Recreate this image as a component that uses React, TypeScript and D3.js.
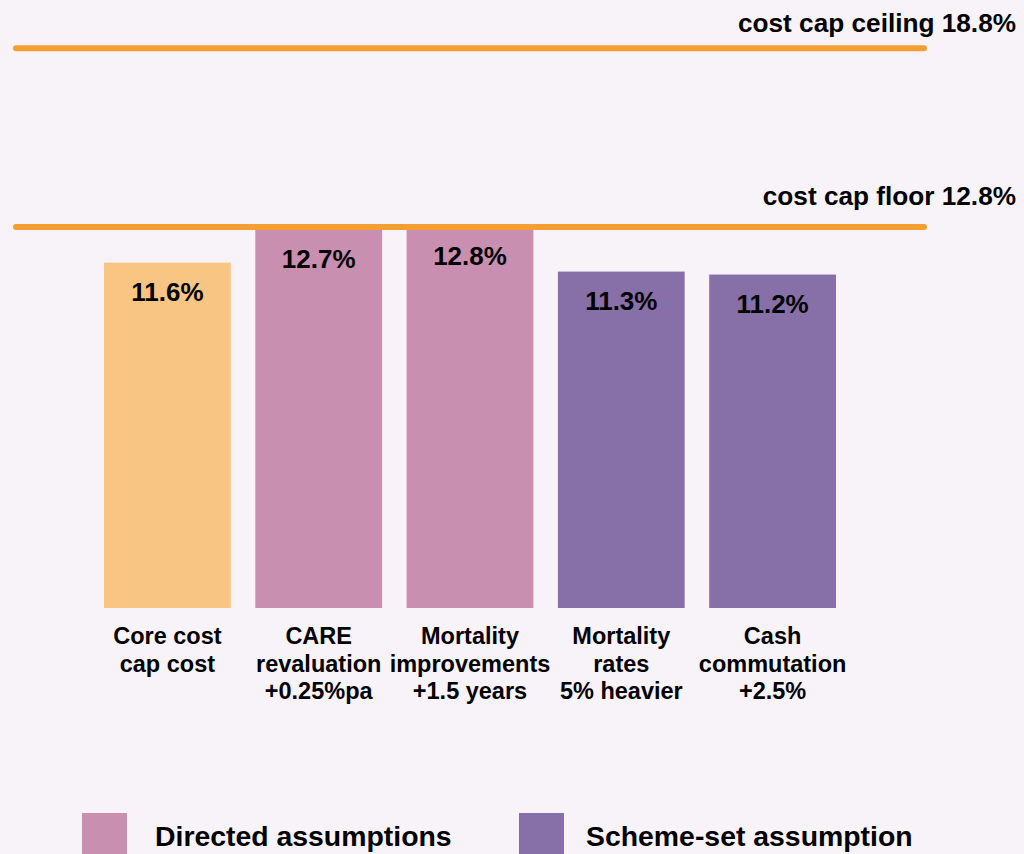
import * as d3 from 'd3';

const categories: string[][] = [
  ['Core cost', 'cap cost'],
  ['CARE', 'revaluation', '+0.25%pa'],
  ['Mortality', 'improvements', '+1.5 years'],
  ['Mortality', 'rates', '5% heavier'],
  ['Cash', 'commutation', '+2.5%'],
];
const values = [11.6, 12.7, 12.8, 11.3, 11.2];
const groups = ['core', 'directed', 'directed', 'scheme', 'scheme'];

const capNames = ['cost cap ceiling', 'cost cap floor'];
const capValues = [18.8, 12.8];

const legendGroups = ['directed', 'scheme'];
const legendLabels = ['Directed assumptions', 'Scheme-set assumption'];

const W = 1024;
const H = 854;
const FONT = 'Liberation Sans';

const color = d3
  .scaleOrdinal<string, string>()
  .domain(['core', 'directed', 'scheme'])
  .range(['#f8c582', '#c98fb0', '#8770a8']);

export default function App() {
  const x = d3
    .scaleBand<number>()
    .domain(d3.range(values.length))
    .range([91.75, 848.25])
    .paddingInner(0.162)
    .paddingOuter(0.081);
  const y = d3.scaleLinear().domain([0, 18.8]).range([608, 48.3]);
  const fmt = (v: number) => `${d3.format('.1f')(v)}%`;
  const capLabelDy = [-16, -22];
  // legend swatch / text x positions
  const legendX = [82, 519];
  const legendTextX = [155, 586];

  return (
    <svg
      width={W}
      height={H}
      viewBox={`0 0 ${W} ${H}`}
      style={{ position: 'absolute', left: 0, top: 0, background: '#f8f3f8', fontFamily: FONT }}
      fontWeight="bold"
    >
      <rect width={W} height={H} fill="#f8f3f8" />

      {values.map((v, i) => (
        <g key={i}>
          <rect
            x={x(i)}
            y={y(v)}
            width={x.bandwidth()}
            height={y(0) - y(v)}
            fill={color(groups[i])}
          />
          <text
            x={(x(i) ?? 0) + x.bandwidth() / 2}
            y={y(v) + 38}
            textAnchor="middle"
            fontSize={26}
            fill="#000"
          >
            {fmt(v)}
          </text>
          <text
            x={(x(i) ?? 0) + x.bandwidth() / 2}
            y={644}
            textAnchor="middle"
            fontSize={23.5}
            fill="#000"
          >
            {categories[i].map((line, j) => (
              <tspan key={j} x={(x(i) ?? 0) + x.bandwidth() / 2} dy={j === 0 ? 0 : 27.5}>
                {line}
              </tspan>
            ))}
          </text>
        </g>
      ))}

      {capValues.map((v, i) => (
        <g key={i}>
          <line
            x1={16}
            x2={924}
            y1={y(v)}
            y2={y(v)}
            stroke="#f59e32"
            strokeWidth={6}
            strokeLinecap="round"
          />
          <text x={1016} y={y(v) + capLabelDy[i]} textAnchor="end" fontSize={26.2} fill="#000">
            {`${capNames[i]} ${fmt(v)}`}
          </text>
        </g>
      ))}

      {legendGroups.map((g, i) => (
        <g key={g}>
          <rect x={legendX[i]} y={813} width={45} height={45} fill={color(g)} />
          <text x={legendTextX[i]} y={846} fontSize={28.4} fill="#000">
            {legendLabels[i]}
          </text>
        </g>
      ))}
    </svg>
  );
}
